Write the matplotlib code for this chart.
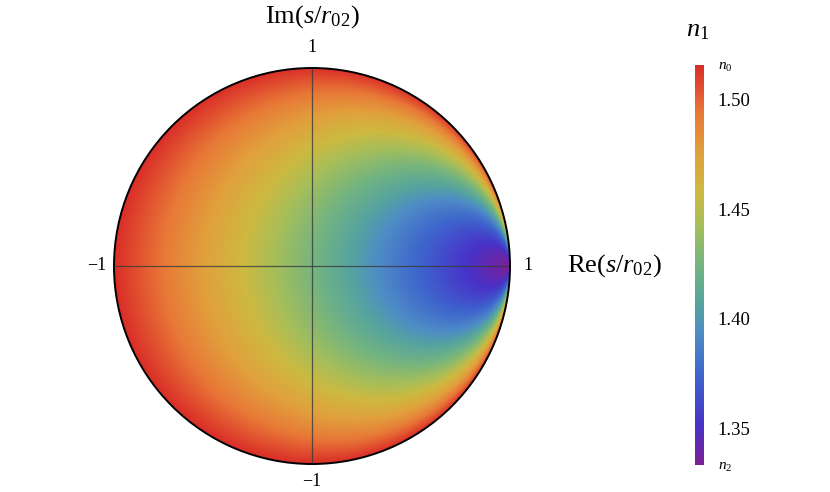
import numpy as np
import matplotlib
matplotlib.use('Agg')
import matplotlib.pyplot as plt
from matplotlib.colors import LinearSegmentedColormap
from matplotlib.patches import Circle

plt.rcParams['font.family'] = ['Liberation Serif', 'DejaVu Serif']
plt.rcParams['mathtext.fontset'] = 'custom'
plt.rcParams['mathtext.rm'] = 'Liberation Serif'
plt.rcParams['mathtext.it'] = 'Liberation Serif:italic'

# index values at the rim (n0) and at s = r02 (n2)
n0 = 1.5156
n2 = 1.3335
# n1 read along the real axis
re_axis = [-1.0, -0.5, 0.0, 0.5, 0.8, 1.0]
n_axis = [n0, 1.471, 1.426, 1.377, 1.350, n2]
cbar_ticks = [n2, 1.35, 1.40, 1.45, 1.50, n0]
cbar_labels = ['$n_2$', '1.35', '1.40', '1.45', '1.50', '$n_0$']

# colour scale, bottom (n2) to top (n0)
cmap_pos = [0.0, 0.10, 0.22, 0.33, 0.40, 0.50, 0.60, 0.68, 0.78, 0.88, 1.0]
cmap_rgb = [(122, 32, 148), (72, 50, 200), (62, 100, 205), (78, 140, 198),
            (85, 163, 160), (115, 180, 128), (165, 190, 90), (205, 185, 65),
            (225, 160, 60), (232, 120, 55), (218, 45, 40)]
cmap = LinearSegmentedColormap.from_list(
    'rb', [(p, tuple(c / 255 for c in rgb)) for p, rgb in zip(cmap_pos, cmap_rgb)], N=512)

# level sets are horocycles touching s = r02; map each point to where its
# horocycle meets the real axis and look up n1 there
g = np.linspace(-1, 1, 900)
X, Y = np.meshgrid(g, g)
r2 = X**2 + Y**2
P = (1 - r2) / ((1 - X)**2 + Y**2 + 1e-12)
P = np.clip(P, 0, None)
xc = (P - 1) / (P + 1)
N = np.interp(xc, re_axis, n_axis)
N = np.ma.masked_where(r2 > 1.0, N)

fig = plt.figure(figsize=(8.3, 4.92), dpi=100)
ax = fig.add_axes([113 / 830, 27 / 492, 398 / 830, 398 / 492])
im = ax.imshow(N, origin='lower', extent=(-1, 1, -1, 1), cmap=cmap,
               vmin=n2, vmax=n0, interpolation='bilinear')
disk = Circle((0, 0), 1.0, transform=ax.transData, facecolor='none')
im.set_clip_path(disk)
ax.add_patch(Circle((0, 0), 1.0, facecolor='none', edgecolor='black', lw=1.4, zorder=4))
ax.plot([-1, 1], [0, 0], color='#3a3a3a', lw=0.9, alpha=0.8, zorder=3)
ax.plot([0, 0], [-1, 1], color='#3a3a3a', lw=0.9, alpha=0.8, zorder=3)
ax.set_xlim(-1.005, 1.005)
ax.set_ylim(-1.005, 1.005)
ax.set_aspect('equal')
ax.axis('off')

fig.text(312 / 830, 1 - 17 / 492, r'Im($s$/$r_{02}$)', fontsize=19, ha='center', va='center')
fig.text(312 / 830, 1 - 47 / 492, '1', fontsize=13, ha='center', va='center')
fig.text(312 / 830, 1 - 482 / 492, '\u22121', fontsize=13, ha='center', va='center')
fig.text(97 / 830, 1 - 266 / 492, '\u22121', fontsize=13, ha='center', va='center')
fig.text(528 / 830, 1 - 266 / 492, '1', fontsize=13, ha='center', va='center')
fig.text(567 / 830, 1 - 266 / 492, r'Re($s$/$r_{02}$)', fontsize=19, ha='left', va='center')
fig.text(698 / 830, 1 - 31 / 492, '$n_1$', fontsize=19, ha='center', va='center')

cax = fig.add_axes([695 / 830, 27 / 492, 9 / 830, 400 / 492])
cb = fig.colorbar(im, cax=cax, ticks=cbar_ticks)
cb.outline.set_visible(False)
cb.ax.set_yticklabels(cbar_labels)
cb.ax.tick_params(length=0, labelsize=13.5, pad=10)
for lab in cb.ax.get_yticklabels():
    if lab.get_text().startswith('$'):
        lab.set_fontsize(11)

fig.savefig('out.png', dpi=100)
